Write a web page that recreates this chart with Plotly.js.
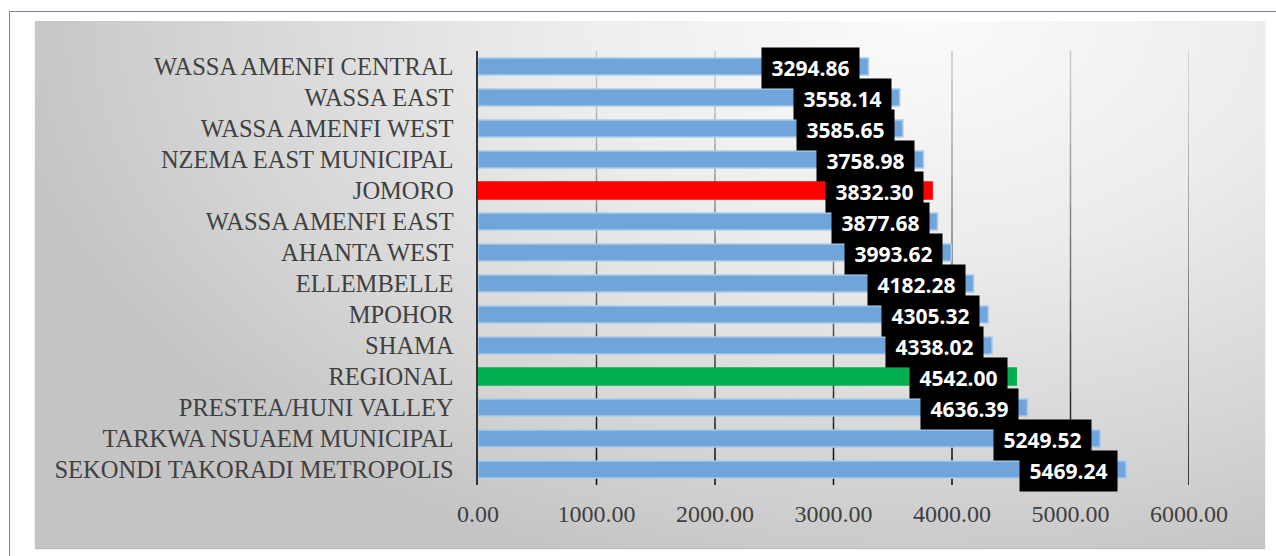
<!DOCTYPE html>
<html>
<head>
<meta charset="utf-8">
<script src="https://cdn.plot.ly/plotly-3.0.1.min.js"></script>
<style>
  html, body { margin: 0; padding: 0; background: #ffffff; }
  #frame { position: absolute; left: 9px; top: 11px; width: 1300px; height: 600px;
           border-left: 1px solid #7f7fa0; border-top: 1px solid #7f7fa0; background: #fff; }
  #bg { position: absolute; left: 35px; top: 21px; width: 1230px; height: 527px;
        background: radial-gradient(ellipse 75% 110% at 72% 0%, #fbfbfb 0%, #ececec 40%, #d6d6d6 75%, #c4c4c4 100%);
        box-shadow: 0 1px 1px #bbb; }
  #chart { position: absolute; left: 0; top: 0; width: 1276px; height: 556px; }
</style>
</head>
<body>
<div id="frame"></div>
<div id="bg"></div>
<div id="chart"></div>
<script>
const categories = [
  "WASSA AMENFI CENTRAL", "WASSA EAST", "WASSA AMENFI WEST", "NZEMA EAST MUNICIPAL",
  "JOMORO", "WASSA AMENFI EAST", "AHANTA WEST", "ELLEMBELLE", "MPOHOR", "SHAMA",
  "REGIONAL", "PRESTEA/HUNI VALLEY", "TARKWA NSUAEM MUNICIPAL", "SEKONDI TAKORADI METROPOLIS"
];
const values = [3294.86, 3558.14, 3585.65, 3758.98, 3832.30, 3877.68, 3993.62, 4182.28,
                4305.32, 4338.02, 4542.00, 4636.39, 5249.52, 5469.24];
const tickValues = [0, 1000, 2000, 3000, 4000, 5000, 6000];

const highlight = { "JOMORO": "#ff0000", "REGIONAL": "#00b050" };
const colors = categories.map(c => highlight[c] || "#6fa5da");
const lineColors = categories.map(c => highlight[c] ? highlight[c] : "#a9cbed");

const serif = "'Times New Roman', 'Liberation Serif', serif";

const trace = {
  type: "bar", orientation: "h",
  x: values, y: categories,
  marker: { color: colors, line: { color: lineColors, width: 1.5 } },
  hoverinfo: "skip"
};

const annotations = values.map((v, i) => ({
  x: v, y: categories[i], xref: "x", yref: "y",
  text: "\u2009" + v.toFixed(2) + "\u2009", showarrow: false,
  xanchor: "right", yanchor: "middle", xshift: -8, yshift: -1,
  bgcolor: "#000000", borderpad: 6,
  font: { family: "Open Sans", size: 21, color: "#ffffff", weight: "bold" }
}));

// gradient gridlines (light at top, dark at bottom), drawn as stacked segments
const segs = 14;
const gridShapes = [];
tickValues.filter(t => t > 0).forEach(t => {
  for (let k = 0; k < segs; k++) {
    const f = k / (segs - 1);
    const g = Math.round(200 - 190 * Math.pow(f, 1.1));
    gridShapes.push({
      type: "line", xref: "x", yref: "paper", layer: "below",
      x0: t, x1: t, y0: 1 - k / segs, y1: 1 - (k + 1) / segs,
      line: { color: `rgb(${g},${g},${g})`, width: 1.5 }
    });
  }
});

const layout = {
  width: 1276, height: 556,
  margin: { l: 478, r: 87, t: 51, b: 71 },
  paper_bgcolor: "rgba(0,0,0,0)", plot_bgcolor: "rgba(0,0,0,0)",
  showlegend: false, bargap: 0.45,
  xaxis: {
    range: [0, 6000], tickvals: tickValues, ticktext: tickValues.map(t => t.toFixed(2)),
    showgrid: false,
    zeroline: false, showline: false, ticks: "",
    ticklabelstandoff: 12,
    tickfont: { family: serif, size: 24, color: "#404040" }
  },
  yaxis: {
    range: [categories.length - 0.5, -0.5], type: "category",
    showgrid: false, zeroline: false,
    showline: true, linecolor: "#333333", linewidth: 2.5,
    ticks: "", ticklabelstandoff: 17,
    tickfont: { family: serif, size: 24.5, color: "#404040" }
  },
  shapes: gridShapes,
  annotations: annotations
};

Plotly.newPlot("chart", [trace], layout, { staticPlot: true, displayModeBar: false });
</script>
</body>
</html>
